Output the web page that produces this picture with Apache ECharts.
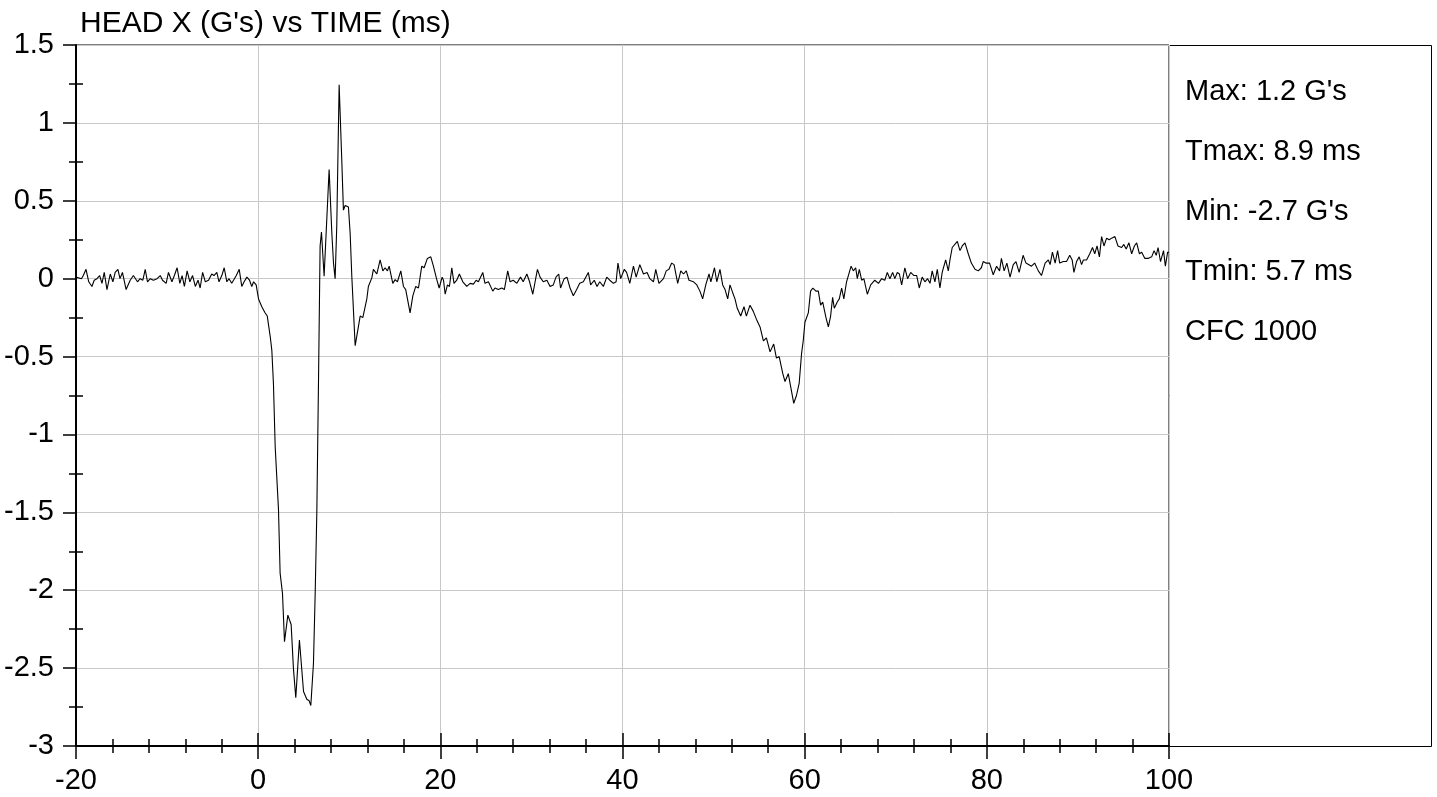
<!DOCTYPE html>
<html><head><meta charset="utf-8">
<script src="https://cdn.jsdelivr.net/npm/echarts@6/dist/echarts.min.js"></script>
<style>html,body{margin:0;padding:0;background:#fff}#c{width:1437px;height:797px}</style>
</head><body><div id="c"></div>
<script>
const titleText = "HEAD X (G's) vs TIME (ms)";
const statLines = ["Max: 1.2 G's", "Tmax: 8.9 ms", "Min: -2.7 G's", "Tmin: 5.7 ms", "CFC 1000"];
const xRange = { min: -20, max: 100, interval: 20 };
const yRange = { min: -3, max: 1.5, interval: 0.5 };

const timeMs = [
-20,-19.4,-19.2,-18.9,-18.6,-18.25,-18.0,-17.7,-17.4,-17.15,-16.9,-16.6,-16.24,-15.95,-15.7,-15.4,-15.17,-14.9,-14.5,-14.05,
-13.7,-13.25,-12.96,-12.66,-12.4,-12.15,-11.85,-11.5,-11.1,-10.75,-10.5,-10.1,-9.85,-9.47,-9.2,-8.9,-8.6,-8.35,-8.1,-7.8,
-7.5,-7.2,-6.9,-6.6,-6.37,-6.1,-5.8,-5.45,-5.1,-4.85,-4.54,-4.3,-3.99,-3.73,-3.44,-3.2,-2.9,-2.7,-2.4,-2.08,
-1.8,-1.54,-1.24,-0.95,-0.7,-0.5,-0.22,0.04,0.4,0.77,1.0,1.32,1.5,1.68,1.87,2.23,2.41,2.67,2.89,3.26,
3.62,3.88,4.13,4.53,4.98,5.34,5.6,5.78,6.07,6.26,6.44,6.62,6.8,6.95,7.24,7.79,8.09,8.27,8.45,8.63,
8.89,9.18,9.36,9.55,9.91,10.1,10.28,10.65,11.0,11.2,11.49,11.93,12.1,12.48,12.65,13.03,13.39,13.69,13.94,14.19,
14.38,14.78,15.04,15.29,15.66,15.95,16.2,16.68,16.98,17.3,17.6,17.96,18.22,18.58,18.95,19.24,19.61,19.87,20.2,20.35,
20.53,20.78,21.0,21.26,21.5,21.8,22.09,22.47,22.9,23.27,23.63,23.93,24.18,24.66,24.9,25.28,25.76,26.0,26.37,26.75,
27.03,27.4,27.66,28.0,28.4,28.8,29.1,29.5,29.8,30.15,30.66,30.95,31.3,31.7,32.05,32.4,32.7,33.0,33.2,33.6,
33.9,34.24,34.6,34.97,35.3,35.7,36.25,36.5,36.9,37.2,37.5,37.9,38.27,38.6,39.0,39.3,39.5,39.8,40.2,40.45,
40.8,41.2,41.5,41.9,42.3,42.7,43.0,43.4,43.65,44.0,44.5,44.8,45.1,45.4,45.66,46.06,46.4,46.7,47.0,47.3,
47.8,48.16,48.5,48.8,49.14,49.5,49.7,50.1,50.35,50.7,51.0,51.26,51.55,51.8,52.1,52.35,52.6,52.98,53.34,53.6,
54.0,54.36,54.7,55.1,55.47,55.8,56.2,56.6,56.9,57.2,57.6,57.84,58.2,58.58,58.8,59.1,59.4,59.66,59.84,60.03,
60.4,60.65,60.9,61.24,61.5,61.75,61.98,62.34,62.6,62.85,63.07,63.25,63.58,63.8,64.06,64.3,64.6,64.9,65.1,65.34,
65.6,65.78,66.0,66.26,66.5,66.88,67.25,67.7,68.1,68.45,68.8,69.07,69.36,69.66,69.9,70.17,70.4,70.65,71.0,71.3,
71.64,72.0,72.3,72.58,72.9,73.2,73.5,73.76,74.0,74.3,74.56,74.85,75.1,75.3,75.48,75.77,75.95,76.2,76.4,76.76,
77.05,77.3,77.6,77.96,78.3,78.7,79.06,79.4,79.6,79.9,80.3,80.7,81.07,81.4,81.6,81.9,82.2,82.55,82.9,83.2,
83.55,83.98,84.3,84.5,84.9,85.25,85.65,86.0,86.4,86.75,86.95,87.2,87.5,87.77,88.0,88.4,88.75,89.1,89.37,89.56,
89.85,90.14,90.4,90.6,90.95,91.3,91.6,91.85,92.1,92.36,92.6,92.86,93.15,93.44,93.7,94.06,94.4,94.8,95.04,95.3,
95.6,95.9,96.2,96.45,96.75,97.0,97.35,97.7,98.1,98.36,98.6,98.8,99.07,99.4,99.6,99.85,100.0
];

const headXG = [
0.01,0.0,0.02,0.06,-0.02,-0.05,-0.01,0.0,0.02,-0.03,0.04,-0.07,0.03,-0.02,0.04,0.06,0.0,0.04,-0.07,-0.01,
0.02,-0.02,0.0,-0.01,0.06,-0.02,0.0,-0.01,0.0,0.02,-0.01,-0.03,0.04,-0.02,0.02,0.07,-0.03,0.02,-0.05,0.05,
-0.02,0.02,-0.05,-0.01,-0.06,0.04,-0.02,-0.01,0.03,0.02,0.04,-0.02,0.02,0.07,-0.02,0.0,-0.03,-0.03,0.02,0.06,
-0.05,-0.02,0.01,-0.01,-0.05,-0.02,-0.04,-0.13,-0.18,-0.22,-0.24,-0.37,-0.46,-0.68,-1.08,-1.48,-1.89,-2.02,-2.33,-2.16,
-2.22,-2.51,-2.69,-2.32,-2.65,-2.70,-2.71,-2.74,-2.47,-2.02,-1.50,-0.68,0.21,0.30,0.015,0.70,0.29,0.10,0.0,0.34,
1.245,0.76,0.44,0.47,0.46,0.29,0.015,-0.43,-0.31,-0.24,-0.25,-0.13,-0.05,0.005,0.06,0.03,0.12,0.05,0.07,0.05,
0.08,-0.03,-0.006,-0.02,0.05,-0.05,-0.07,-0.22,-0.11,-0.05,-0.06,0.08,0.07,0.13,0.14,0.08,-0.006,-0.06,0.01,-0.01,
-0.10,-0.04,-0.05,0.07,-0.03,-0.01,0.03,-0.02,-0.05,-0.03,-0.035,-0.01,-0.02,0.04,-0.03,-0.02,-0.08,-0.06,-0.07,-0.06,
-0.07,0.05,-0.02,-0.01,-0.03,0.01,-0.02,0.03,-0.02,-0.10,0.06,0.01,-0.02,-0.01,-0.05,-0.04,0.01,0.03,-0.06,0.0,
0.01,-0.06,-0.11,-0.07,-0.03,-0.02,0.04,-0.04,-0.01,-0.05,-0.02,-0.05,0.01,-0.01,-0.03,-0.02,0.10,0.0,0.06,0.04,
-0.03,0.08,0.01,0.09,0.03,0.04,0.0,-0.02,0.06,-0.03,0.0,0.05,0.06,0.1,0.09,-0.03,0.05,0.03,0.05,-0.01,
-0.02,-0.04,-0.08,-0.13,-0.04,0.03,-0.02,0.07,-0.02,0.06,-0.04,-0.07,-0.13,-0.04,-0.09,-0.13,-0.19,-0.24,-0.18,-0.24,
-0.17,-0.21,-0.26,-0.31,-0.40,-0.38,-0.47,-0.42,-0.51,-0.50,-0.61,-0.66,-0.61,-0.73,-0.80,-0.75,-0.67,-0.48,-0.40,-0.28,
-0.22,-0.08,-0.06,-0.08,-0.08,-0.17,-0.15,-0.25,-0.31,-0.24,-0.12,-0.19,-0.15,-0.13,-0.06,-0.13,-0.02,0.04,0.08,0.05,
0.07,0.0,0.06,-0.01,0.0,-0.10,-0.04,-0.01,-0.03,0.0,-0.01,0.04,0.0,0.04,0.0,0.04,0.03,-0.04,0.07,0.0,
0.04,0.02,0.02,-0.06,0.01,-0.02,0.0,-0.03,0.05,-0.02,0.06,-0.06,0.04,0.05,0.12,0.05,0.12,0.20,0.19,0.24,
0.18,0.21,0.23,0.16,0.10,0.06,0.05,0.07,0.11,0.10,0.10,0.025,0.08,0.05,0.13,0.05,0.10,0.01,0.09,0.11,
0.04,0.15,0.10,0.11,0.08,0.10,0.05,0.02,0.10,0.12,0.09,0.17,0.10,0.18,0.10,0.11,0.11,0.15,0.12,0.04,
0.11,0.14,0.09,0.12,0.12,0.16,0.20,0.16,0.21,0.14,0.27,0.21,0.26,0.25,0.26,0.27,0.21,0.20,0.22,0.19,
0.23,0.16,0.21,0.23,0.16,0.17,0.13,0.13,0.14,0.18,0.15,0.20,0.11,0.18,0.08,0.17,0.17
];

const FONT = '"Liberation Sans", Arial, Helvetica, sans-serif';
const seriesData = timeMs.map((t, i) => [t, headXG[i]]);

const chart = echarts.init(document.getElementById('c'), null, { renderer: 'canvas' });

const tickStyle = { color: '#000', width: 1.5 };
const statGraphics = statLines.map((s, i) => ({
  type: 'text',
  x: 1185,
  y: 92 + i * 60,
  style: { text: s, fill: '#000', fontSize: 29, fontFamily: FONT, verticalAlign: 'middle', align: 'left' }
}));

chart.setOption({
  animation: false,
  backgroundColor: '#fff',
  title: {
    text: titleText, left: 80, top: 9, padding: 0,
    textStyle: { fontSize: 30, fontWeight: 'normal', color: '#000', fontFamily: FONT }
  },
  grid: { left: 76, top: 45, width: 1093, height: 701, show: true, borderColor: '#000', borderWidth: 1, backgroundColor: 'transparent', containLabel: false },
  xAxis: [
    {
      type: 'value', min: xRange.min, max: xRange.max, interval: xRange.interval, position: 'bottom',
      axisLine: { show: true, onZero: false, lineStyle: { color: '#000', width: 2 } },
      axisTick: { show: true, inside: false, length: 13, lineStyle: tickStyle },
      minorTick: { show: true, splitNumber: 5, length: 7, lineStyle: tickStyle },
      axisLabel: { color: '#000', fontSize: 29, fontFamily: FONT, margin: 20 },
      splitLine: { show: true, lineStyle: { color: '#c8c8c8', width: 1 } },
      minorSplitLine: { show: false }
    },
    {
      type: 'value', min: xRange.min, max: xRange.max, interval: xRange.interval, position: 'bottom',
      axisLine: { show: false, onZero: false },
      axisTick: { show: true, inside: true, length: 13, lineStyle: tickStyle },
      minorTick: { show: true, splitNumber: 5, length: 7, lineStyle: tickStyle },
      axisLabel: { show: false },
      splitLine: { show: false }
    }
  ],
  yAxis: [
    {
      type: 'value', min: yRange.min, max: yRange.max, interval: yRange.interval, position: 'left',
      axisLine: { show: true, onZero: false, lineStyle: { color: '#000', width: 2 } },
      axisTick: { show: true, inside: false, length: 13, lineStyle: tickStyle },
      minorTick: { show: true, splitNumber: 2, length: 7, lineStyle: tickStyle },
      axisLabel: { color: '#000', fontSize: 29, fontFamily: FONT, margin: 22 },
      splitLine: { show: true, lineStyle: { color: '#c8c8c8', width: 1 } }
    },
    {
      type: 'value', min: yRange.min, max: yRange.max, interval: yRange.interval, position: 'left', offset: 0,
      axisLine: { show: false, onZero: false },
      axisTick: { show: false, inside: true, length: 13 },
      minorTick: { show: true, splitNumber: 2, length: 7, lineStyle: tickStyle },
      axisLabel: { show: false },
      splitLine: { show: false }
    }
  ],
  graphic: [
    {
      type: 'rect',
      shape: { x: 1169.5, y: 45.5, width: 262, height: 701 },
      style: { fill: 'none', stroke: '#000', lineWidth: 1 }
    }
  ].concat(statGraphics),
  series: [
    {
      type: 'line', xAxisIndex: 0, yAxisIndex: 0,
      data: seriesData, showSymbol: false, symbol: 'none',
      lineStyle: { color: '#000', width: 1.1 },
      clip: true
    }
  ]
});
</script>
</body></html>
